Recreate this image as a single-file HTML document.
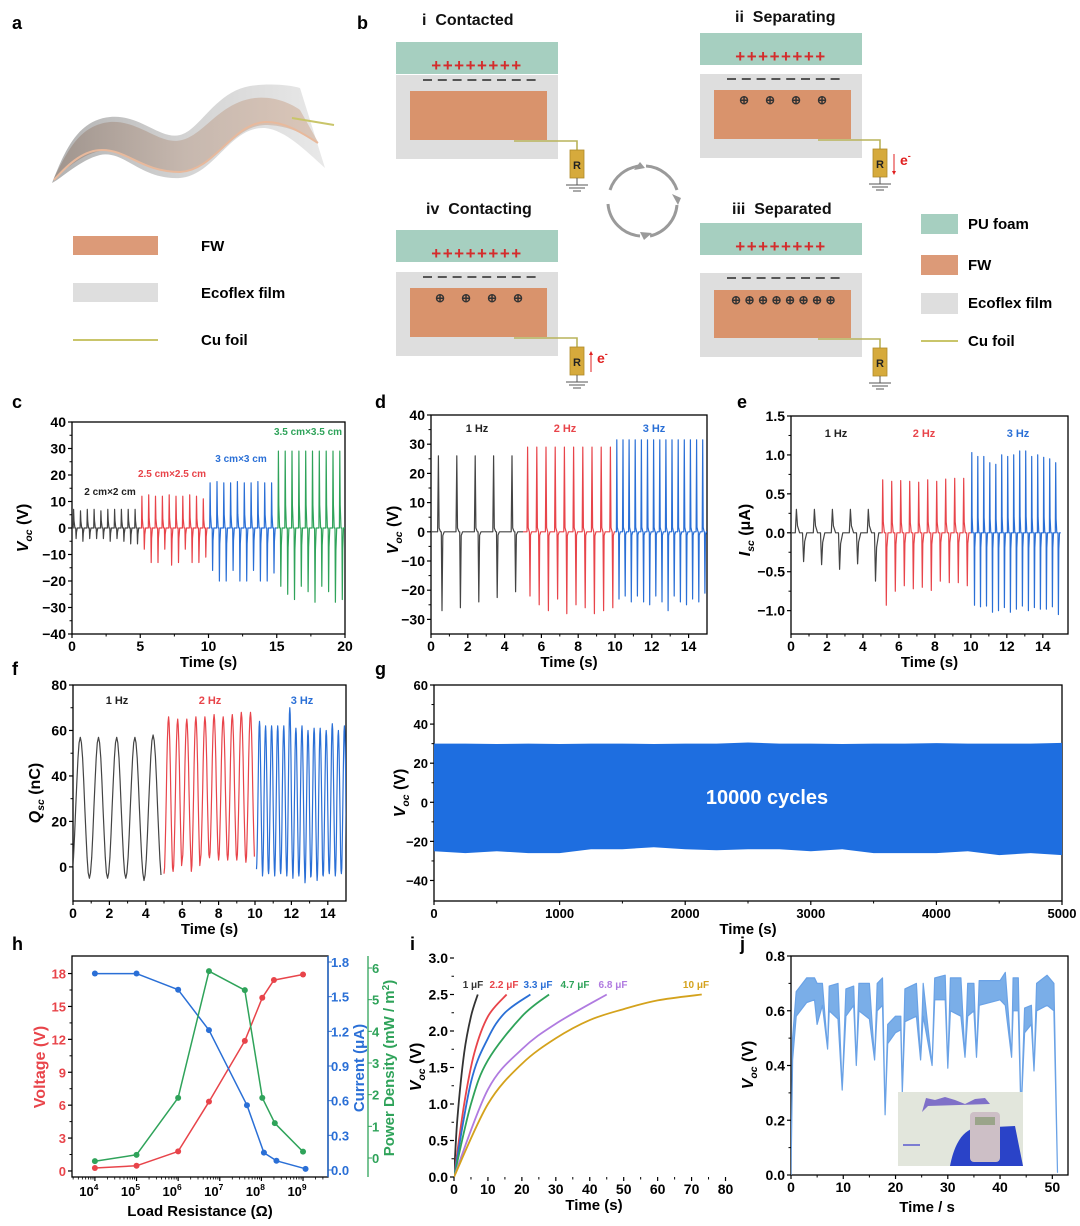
<!DOCTYPE html>
<html><head><meta charset="utf-8"><style>
html,body{margin:0;padding:0;background:#fff;}
svg text{font-family:"Liberation Sans",Arial,sans-serif;font-weight:bold;}
</style></head><body>
<svg id="fig" xmlns="http://www.w3.org/2000/svg" width="1080" height="1221" viewBox="0 0 1080 1221">
<rect width="1080" height="1221" fill="#fff"/>
<g font-size="18" fill="#000">
<text x="12" y="29">a</text>
<text x="357" y="29">b</text>
<text x="12" y="408">c</text>
<text x="375" y="408">d</text>
<text x="737" y="408">e</text>
<text x="12" y="675">f</text>
<text x="375" y="675">g</text>
<text x="12" y="950">h</text>
<text x="410" y="950">i</text>
<text x="740" y="950">j</text>
</g>
<g>
<defs>
<linearGradient id="gsheet" x1="0" y1="0" x2="1" y2="0"><stop offset="0" stop-color="#a9a9a9"/><stop offset="0.5" stop-color="#cfcfcf"/><stop offset="1" stop-color="#e6e6e6"/></linearGradient>
<linearGradient id="gfw" x1="0" y1="0" x2="1" y2="0"><stop offset="0" stop-color="#9c8f87"/><stop offset="0.5" stop-color="#c4b3a8"/><stop offset="1" stop-color="#d8c0b0"/></linearGradient>
</defs>
<path d="M52,183 C65,150 78,120 110,117 C140,114 160,140 180,135 C200,130 215,92 250,86 C270,83 290,85 300,88 L325,168 C305,150 285,130 265,128 C230,126 215,175 180,178 C140,180 125,150 100,155 C80,160 62,178 52,183 Z" fill="url(#gsheet)" opacity="0.9"/>
<path d="M54,178 C68,150 80,125 110,122 C140,120 160,146 182,140 C205,134 220,102 255,98 C275,96 292,104 300,110 L318,142 C300,132 285,125 265,125 C232,126 215,170 180,172 C142,174 125,147 100,151 C80,155 63,172 54,178 Z" fill="url(#gfw)" opacity="0.85"/>
<path d="M54,180 C70,162 85,150 102,150 C128,150 142,172 180,172 C215,170 232,124 265,122 C285,121 305,135 318,143" fill="none" stroke="#e8b99c" stroke-width="2"/>
<line x1="292" y1="118" x2="334" y2="125" stroke="#c9c56a" stroke-width="2"/>
</g>
<g font-size="15" fill="#000">
<rect x="73" y="236" width="85" height="19" fill="#dc9a78"/>
<text x="201" y="251">FW</text>
<rect x="73" y="283" width="85" height="19" fill="#dedede"/>
<text x="201" y="298">Ecoflex film</text>
<line x1="73" y1="340" x2="158" y2="340" stroke="#c9c56a" stroke-width="2"/>
<text x="201" y="345">Cu foil</text>
</g>
<g font-size="15" fill="#000">
<rect x="921" y="214" width="37" height="20" fill="#a6cfc0"/>
<text x="968" y="229">PU foam</text>
<rect x="921" y="255" width="37" height="20" fill="#dc9a78"/>
<text x="968" y="270">FW</text>
<rect x="921" y="293" width="37" height="21" fill="#dedede"/>
<text x="968" y="308">Ecoflex film</text>
<line x1="921" y1="341" x2="958" y2="341" stroke="#c9c56a" stroke-width="2"/>
<text x="968" y="346">Cu foil</text>
</g>
<g id="panelb"></g>
<g fill="none" stroke="#9a9a9a" stroke-width="3">
<path d="M610,190 A35,35 0 0 1 640,166"/><path d="M646,166 A35,35 0 0 1 677,190"/>
<path d="M677,205 A35,35 0 0 1 650,236"/><path d="M640,236 A35,35 0 0 1 608,204"/>
<polygon points="640,162 634,170 645,168" fill="#9a9a9a" stroke="none"/>
<polygon points="681,198 672,194 678,205" fill="#9a9a9a" stroke="none"/>
<polygon points="644,240 652,233 640,232" fill="#9a9a9a" stroke="none"/>
</g>
<g id="charts"></g>
</svg>
<script>
// ---------- data arrays ----------
const cBlackPos=[7,6.5,7,7,6.5,7,7,7,7,7], cBlackNeg=[-4,-5,-4,-4,-4,-5,-4,-5,-6,-6];
const cRedPos=[12,12.5,12,12,12.5,12,12,12.5,12,11], cRedNeg=[-8,-13,-13,-8,-14,-13,-8,-13,-13,-11];
const cBluePos=[17,17.5,17,17,17.5,17,17,17.5,17,17], cBlueNeg=[-16,-20,-20,-16,-20,-20,-16,-20,-20,-17];
const cGreenPos=[29,29,29,29,29,29,29,29,29,29], cGreenNeg=[-22,-25,-27,-22,-24,-28,-22,-24,-28,-27];
const cXTicks=[0,5,10,15,20], cYTicks=[-40,-30,-20,-10,0,10,20,30,40];
const dBlackPos=[26,26,26,26,26], dBlackNeg=[-27,-26,-24,-22.5,-20.5];
const dRedPos=[29,29,29,29,29,29,29,29,29,29], dRedNeg=[-22,-25,-27,-23,-28,-25,-26,-28,-27,-26];
const dBluePos=[31.5,31.5,31.5,31.5,31.5,31.5,31.5,31.5,31.5,31.5,31.5,31.5,31.5,31.5,31.5], dBlueNeg=[-23,-22,-24,-22,-24,-25,-22,-24,-27,-22,-24,-25,-23,-24,-21];
const dXTicks=[0,2,4,6,8,10,12,14], dYTicks=[-30,-20,-10,0,10,20,30,40];
const eBlackPos=[0.3,0.3,0.3,0.3,0.3], eBlackNeg=[-0.37,-0.41,-0.47,-0.4,-0.62];
const eRedPos=[0.68,0.66,0.67,0.66,0.65,0.68,0.66,0.69,0.7,0.7], eRedNeg=[-0.93,-0.75,-0.68,-0.72,-0.7,-0.74,-0.62,-0.64,-0.64,-0.68];
const eBluePos=[1.03,0.98,0.98,0.9,0.88,1.0,0.98,1.0,1.05,1.05,0.98,1.0,0.97,0.95,0.9], eBlueNeg=[-0.93,-0.95,-0.94,-1.02,-1.0,-0.96,-1.02,-0.98,-0.94,-1.0,-0.96,-0.98,-0.98,-0.95,-1.05];
const eXTicks=[0,2,4,6,8,10,12,14], eYTicks=[-1.0,-0.5,0.0,0.5,1.0,1.5];
const fBlackMax=[57,57,57,57,58], fBlackMin=[-5,-5,-5,-5,-6];
const fRedMax=[66,65,65,66,66,67,66,67,68,68], fRedMin=[-3,-2,3,-2,3,4,3,3,3,2];
const fBlueMax=[64,62,62,62,62,70,61,62,60,61,61,60,63,60,62], fBlueMin=[-1,-4,-3,-4,-3,-4,-5,-4,-7,-4,-6,-4,-3,-4,-3];
const fXTicks=[0,2,4,6,8,10,12,14], fYTicks=[0,20,40,60,80];
const gTime=[0,250,500,750,1000,1250,1500,1750,2000,2250,2500,2750,3000,3250,3500,3750,4000,4250,4500,4750,5000];
const gTop=[30,30,29.8,30,29.8,30,30,29.8,30,30,30.6,30,30,29.8,30,30,30.3,30,30,30,30.4];
const gBot=[-25,-26,-25,-26,-26,-24,-24,-23,-24,-24.5,-24,-24,-25,-24,-26,-26,-26,-25,-27,-26,-27];
const gXTicks=[0,1000,2000,3000,4000,5000], gYTicks=[-40,-20,0,20,40,60];
const hR=[1e4,1e5,1e6,5.5e6,4e7,1.05e8,2e8,1e9];
const hVolt=[0,0.2,1.5,6,11.5,15.4,17,17.5];
const hCurR=[1e4,1e5,1e6,5.5e6,4.5e7,1.15e8,2.3e8,1.15e9];
const hCur=[1.7,1.7,1.56,1.21,0.56,0.15,0.08,0.01];
const hPowR=[1e4,1e5,1e6,5.5e6,4e7,1.05e8,2.1e8,1e9];
const hPow=[-0.1,0.1,1.9,5.9,5.3,1.9,1.1,0.2];
const hXTicks=[4,5,6,7,8,9], hVTicks=[0,3,6,9,12,15,18], hCTicks=[0,0.3,0.6,0.9,1.2,1.5,1.8], hPTicks=[0,1,2,3,4,5,6];
const iLabels=["1 μF","2.2 μF","3.3 μF","4.7 μF","6.8 μF","10 μF"];
const iT=[[0,1,3,5,7],[0,3,6,10,15.5],[0,5,10,15,22.5],[0,5,10,20,28],[0,10,20,30,45],[0,10,20,30,40,50,60,73]];
const iV=[[0,0.8,1.7,2.2,2.5],[0,1.0,1.7,2.2,2.5],[0,1.3,1.9,2.25,2.5],[0,1.0,1.6,2.2,2.5],[0,1.2,1.75,2.1,2.5],[0,1.0,1.55,1.9,2.15,2.3,2.42,2.5]];
const iXTicks=[0,10,20,30,40,50,60,70,80], iYTicks=[0,0.5,1.0,1.5,2.0,2.5,3.0];
const jT=[0,0.3,1,3,4.5,5,6,7,7.3,9,9.8,10.5,12,12.5,13,15,16,16.5,17.5,18,18.5,20,21,21.3,21.8,24,24.8,25.3,27,27.5,29.5,30,30.5,32.5,33.3,33.8,35,35.5,36,40,41,42.2,42.5,43.5,44,44.7,46,46.5,47,49,50.3,51];
const jLow=[0,0.42,0.58,0.63,0.64,0.55,0.62,0.46,0.6,0.57,0.31,0.58,0.62,0.4,0.6,0.57,0.42,0.6,0.62,0.22,0.48,0.52,0.53,0.3,0.56,0.58,0.42,0.58,0.4,0.64,0.64,0.39,0.6,0.58,0.43,0.58,0.6,0.43,0.62,0.64,0.62,0.43,0.6,0.6,0.22,0.52,0.55,0.38,0.6,0.62,0.6,0.01];
const jHigh=[0,0.5,0.67,0.72,0.72,0.7,0.7,0.46,0.69,0.7,0.31,0.68,0.69,0.4,0.7,0.7,0.42,0.7,0.72,0.22,0.55,0.58,0.58,0.3,0.68,0.7,0.42,0.7,0.4,0.72,0.73,0.39,0.72,0.72,0.43,0.7,0.7,0.43,0.71,0.71,0.74,0.43,0.72,0.72,0.22,0.61,0.62,0.38,0.7,0.73,0.7,0.01];
const jXTicks=[0,10,20,30,40,50], jYTicks=[0,0.2,0.4,0.6,0.8];

// ---------- helpers ----------
const NS="http://www.w3.org/2000/svg";
const root=document.getElementById('charts');
const defs=document.querySelector('defs');
let clipN=0;
function el(tag,attrs,parent,txt){const e=document.createElementNS(NS,tag);for(const k in attrs)e.setAttribute(k,attrs[k]);if(txt!==undefined)e.textContent=txt;(parent||root).appendChild(e);return e;}
function lin(d0,d1,r0,r1){return v=>r0+(v-d0)/(d1-d0)*(r1-r0);}
function fmt(v,dec){return (v<0?"\u2212":"")+Math.abs(v).toFixed(dec);}
let curClip=null;
function axes(o){
  const g=el('g',{});
  
  
  const cid='clip'+(clipN++);
  const cp=el('clipPath',{id:cid},defs);el('rect',{x:o.x0,y:o.y0,width:o.x1-o.x0,height:o.y1-o.y0},cp);
  curClip=el('g',{'clip-path':`url(#${cid})`});
  
  
  const sx=lin(o.xmin,o.xmax,o.x0,o.x1);
  const sy=lin(o.ymin,o.ymax,o.y1,o.y0);
  const fs=o.fs||14;
  o.xticks.forEach(t=>{const x=sx(t);el('line',{x1:x,y1:o.y1,x2:x,y2:o.y1+4,stroke:'#000','stroke-width':1.2},g);
    if(o.xlog){const tx=el('text',{x:x-6,y:o.y1+19,'font-size':fs,'text-anchor':'middle'},g,'10');el('tspan',{dy:-6,'font-size':fs*0.65},tx,String(t));}
    else el('text',{x:x,y:o.y1+17,'font-size':fs,'text-anchor':'middle'},g,fmt(t,o.xdec||0));});
  if(o.xlog){for(let d=Math.floor(o.xmin);d<o.xmax;d++)for(let m=2;m<10;m++){const v=d+Math.log10(m);if(v>o.xmin&&v<o.xmax){const x=sx(v);el('line',{x1:x,y1:o.y1,x2:x,y2:o.y1+2.5,stroke:'#000','stroke-width':0.8},g);}}}
  else if(o.xminor){for(let i=0;i<o.xticks.length-1;i++){const x=sx((o.xticks[i]+o.xticks[i+1])/2);el('line',{x1:x,y1:o.y1,x2:x,y2:o.y1+2.5,stroke:'#000','stroke-width':1},g);}}
  if(!o.noy){o.yticks.forEach(t=>{const y=sy(t);el('line',{x1:o.x0,y1:y,x2:o.x0-4,y2:y,stroke:'#000','stroke-width':1.2},g);
    el('text',{x:o.x0-6,y:y+5,'font-size':fs,'text-anchor':'end',fill:o.ycol||'#000'},g,fmt(t,o.ydec||0));});
  for(let i=0;i<o.yticks.length-1;i++){const y=sy((o.yticks[i]+o.yticks[i+1])/2);el('line',{x1:o.x0,y1:y,x2:o.x0-2.5,y2:y,stroke:'#000','stroke-width':1},g);}}
  if(o.xtitle)el('text',{x:(o.x0+o.x1)/2,y:o.y1+33,'font-size':15,'text-anchor':'middle'},g,o.xtitle);
  return {sx,sy,g,box:()=>el('rect',{x:o.x0,y:o.y0,width:o.x1-o.x0,height:o.y1-o.y0,fill:'none',stroke:'#000','stroke-width':1.3},g)};
}
function ytitle(x,y,main,sub,unit,col,fs){
  const t=el('text',{x:x,y:y,'font-size':fs||16,'text-anchor':'middle',transform:`rotate(-90 ${x} ${y})`,fill:col||'#000'});
  
  el('tspan',{'font-style':'italic'},t,main);
  if(sub)el('tspan',{'font-size':(fs||16)*0.65,dy:4,'font-style':'italic'},t,sub);
  el('tspan',{dy:sub?-4:0},t,unit);return t;
}
function pulsePath(ax,t0,period,pos,neg,a,b,w,tail){
  let pts=[];
  for(let i=0;i<pos.length;i++){const s=t0+i*period;
    pts.push([s,0],[s+a-w,0],[s+a,pos[i]],[s+a+w,pos[i]*tail],[s+a+3*w,0],[s+b-w,0],[s+b,neg[i]],[s+b+w,neg[i]*tail],[s+b+3*w,0]);}
  pts.push([t0+pos.length*period,0]);
  return pts.map((p,k)=>(k?'L':'M')+ax.sx(p[0]).toFixed(1)+','+ax.sy(p[1]).toFixed(1)).join('');
}
function line(path,col,name,sw){const p=el('path',{d:path,fill:'none',stroke:col,'stroke-width':sw||1.2,'stroke-linejoin':'round'},curClip||root);return p;}
function label(x,y,txt,col,fs,name){const t=el('text',{x:x,y:y,'font-size':fs||10,fill:col,'text-anchor':'middle'},root,txt);return t;}
const BK='#444',RD='#e8444a',BL='#2a6fd6',GN='#2fa35a';

// ---------- panel b ----------
(function(){
  const pb=document.getElementById('panelb');
  const diag=[
    {n:'i',t:'Contacted',tx:422,ty:25,gx:396,gy:42,gh:32,ey:75,fy:91,fh:49,plusY:71,minusY:80,circ:0,rx:570,arrow:0},
    {n:'ii',t:'Separating',tx:735,ty:22,gx:700,gy:33,gh:32,ey:74,fy:90,fh:49,plusY:62,minusY:79,circ:4,rx:873,arrow:1},
    {n:'iv',t:'Contacting',tx:426,ty:214,gx:396,gy:230,gh:32,ey:272,fy:288,fh:49,plusY:259,minusY:277,circ:4,rx:570,arrow:-1},
    {n:'iii',t:'Separated',tx:732,ty:214,gx:700,gy:223,gh:32,ey:273,fy:290,fh:48,plusY:252,minusY:278,circ:8,rx:873,arrow:0}];
  diag.forEach(d=>{
    const g=el('g',{},pb);
    
    
    el('text',{x:d.tx,y:d.ty,'font-size':16,fill:'#111'},g,d.n+'\u00a0\u00a0'+d.t);
    el('rect',{x:d.gx,y:d.gy,width:162,height:d.gh,fill:'#a6cfc0'},g);
    el('rect',{x:d.gx,y:d.ey,width:162,height:84,fill:'#dedede'},g);
    el('rect',{x:d.gx+14,y:d.fy,width:137,height:d.fh,fill:'#d9936c'},g);
    el('text',{x:d.gx+81,y:d.plusY,'font-size':17,fill:'#d42c2c','text-anchor':'middle','letter-spacing':'1.5'},g,'++++++++');
    for(let k=0;k<8;k++)el('line',{x1:d.gx+27+k*14.8,y1:d.minusY,x2:d.gx+36+k*14.8,y2:d.minusY,stroke:'#333','stroke-width':1.6},g);
    const step=d.circ===8?13.5:26;const start=d.circ===8?d.gx+36:d.gx+44;
    for(let k=0;k<d.circ;k++)el('text',{x:start+k*step,y:d.fy+14,'font-size':12,fill:'#333','text-anchor':'middle','font-weight':'normal'},g,'\u2295');
    const wy=d.fy+d.fh+1;
    el('polyline',{points:`${d.gx+118},${wy} ${d.rx+7},${wy} ${d.rx+7},${wy+9}`,fill:'none',stroke:'#b9b35a','stroke-width':1.6},g);
    el('rect',{x:d.rx,y:wy+9,width:14,height:28,fill:'#d6aa3c',stroke:'#b08a28','stroke-width':0.8},g);
    el('text',{x:d.rx+7,y:wy+28,'font-size':11,'text-anchor':'middle',fill:'#222'},g,'R');
    el('line',{x1:d.rx+7,y1:wy+37,x2:d.rx+7,y2:wy+44,stroke:'#555','stroke-width':1},g);
    [[11,44],[8,47],[4,50]].forEach(s=>el('line',{x1:d.rx+7-s[0],y1:wy+s[1],x2:d.rx+7+s[0],y2:wy+s[1],stroke:'#555','stroke-width':1},g));
    if(d.arrow){const ax=d.rx+21;
      el('line',{x1:ax,y1:wy+14,x2:ax,y2:wy+34,stroke:'#e02020','stroke-width':1},g);
      if(d.arrow>0)el('polygon',{points:`${ax-2},${wy+31} ${ax+2},${wy+31} ${ax},${wy+35}`,fill:'#e02020'},g);
      else el('polygon',{points:`${ax-2},${wy+17} ${ax+2},${wy+17} ${ax},${wy+13}`,fill:'#e02020'},g);
      const et=el('text',{x:ax+6,y:wy+25,'font-size':14,fill:'#e02020'},g,'e');el('tspan',{dy:-6,'font-size':9},et,'-');}
  });
})();

// ---------- panel c ----------
(function(){
  const ax=axes({name:'chart-c',x0:72,x1:345,y0:422,y1:634,xmin:0,xmax:20,ymin:-40,ymax:40,xticks:cXTicks,yticks:cYTicks,xtitle:'Time (s)',xminor:1});
  line(pulsePath(ax,0,0.5,cBlackPos,cBlackNeg,0.12,0.3,0.03,0.4),BK,'trace-2cm');
  line(pulsePath(ax,5,0.5,cRedPos,cRedNeg,0.12,0.3,0.03,0.3),RD,'trace-2-5cm');
  line(pulsePath(ax,10,0.5,cBluePos,cBlueNeg,0.12,0.3,0.03,0.3),BL,'trace-3cm');
  line(pulsePath(ax,15,0.5,cGreenPos,cGreenNeg,0.12,0.3,0.03,0.3),GN,'trace-3-5cm');
  ax.box();
  ytitle(28,528,'V','oc',' (V)');
  label(110,495,'2 cm\u00d72 cm','#222',10,'label-2cm');
  label(172,477,'2.5 cm\u00d72.5 cm',RD,10,'label-2-5cm');
  label(241,462,'3 cm\u00d73 cm',BL,10,'label-3cm');
  label(308,435,'3.5 cm\u00d73.5 cm',GN,10,'label-3-5cm');
})();
// ---------- panel d ----------
(function(){
  const ax=axes({name:'chart-d',x0:431,x1:707,y0:415,y1:634,xmin:0,xmax:15,ymin:-35,ymax:40,xticks:dXTicks,yticks:dYTicks,xtitle:'Time (s)',xminor:1});
  line(pulsePath(ax,0,1,dBlackPos,dBlackNeg,0.4,0.6,0.04,0.05),BK,'trace-1hz');
  line(pulsePath(ax,5,0.5,dRedPos,dRedNeg,0.25,0.38,0.03,0.05),RD,'trace-2hz');
  line(pulsePath(ax,10,1/3,dBluePos,dBlueNeg,0.1,0.22,0.025,0.05),BL,'trace-3hz');
  ax.box();
  ytitle(398,530,'V','oc',' (V)');
  label(477,432,'1 Hz','#222',11,'label-1hz-d');
  label(565,432,'2 Hz',RD,11,'label-2hz-d');
  label(654,432,'3 Hz',BL,11,'label-3hz-d');
})();
// ---------- panel e ----------
(function(){
  const ax=axes({name:'chart-e',x0:791,x1:1068,y0:416,y1:634,xmin:0,xmax:15.4,ymin:-1.3,ymax:1.5,xticks:eXTicks,yticks:eYTicks,ydec:1,xtitle:'Time (s)',xminor:1});
  line(pulsePath(ax,0,1,eBlackPos,eBlackNeg,0.3,0.7,0.06,0.3),BK,'trace-1hz-e');
  line(pulsePath(ax,5,0.5,eRedPos,eRedNeg,0.1,0.3,0.03,0.2),RD,'trace-2hz-e');
  line(pulsePath(ax,10,1/3,eBluePos,eBlueNeg,0.05,0.2,0.02,0.2),BL,'trace-3hz-e');
  ax.box();
  ytitle(750,530,'I','sc',' (\u03bcA)');
  label(836,437,'1 Hz','#222',11,'label-1hz-e');
  label(924,437,'2 Hz',RD,11,'label-2hz-e');
  label(1018,437,'3 Hz',BL,11,'label-3hz-e');
})();
// ---------- panel f ----------
(function(){
  const ax=axes({name:'chart-f',x0:73,x1:346,y0:685,y1:901,xmin:0,xmax:15,ymin:-15,ymax:80,xticks:fXTicks,yticks:fYTicks,xtitle:'Time (s)',xminor:1});
  function wave(t0,period,mx,mn){let d='';const N=16;
    for(let i=0;i<mx.length;i++)for(let k=0;k<N;k++){const ph=k/N;const t=t0+(i+ph)*period;
      const c=(1-Math.cos(2*Math.PI*ph))/2;const v=mn[i]+(mx[i]-mn[i])*c;
      d+=(d?'L':'M')+ax.sx(t).toFixed(1)+','+ax.sy(v).toFixed(1);}
    return d;}
  line(wave(-0.1,1,fBlackMax,fBlackMin),BK,'trace-q-1hz');
  line(wave(5.0,0.5,fRedMax,fRedMin),RD,'trace-q-2hz');
  line(wave(10.08,1/3,fBlueMax,fBlueMin),BL,'trace-q-3hz');
  ax.box();
  ytitle(40,793,'Q','sc',' (nC)');
  label(117,704,'1 Hz','#222',11,'label-1hz-f');
  label(210,704,'2 Hz',RD,11,'label-2hz-f');
  label(302,704,'3 Hz',BL,11,'label-3hz-f');
})();
// ---------- panel g ----------
(function(){
  const ax=axes({name:'chart-g',x0:434,x1:1062,y0:685,y1:901,xmin:0,xmax:5000,ymin:-50.5,ymax:60,xticks:gXTicks,yticks:gYTicks,xtitle:'Time (s)',xminor:1,fs:13});
  let d='';gTime.forEach((t,i)=>d+=(i?'L':'M')+ax.sx(t).toFixed(1)+','+ax.sy(gTop[i]).toFixed(1));
  for(let i=gTime.length-1;i>=0;i--)d+='L'+ax.sx(gTime[i]).toFixed(1)+','+ax.sy(gBot[i]).toFixed(1);
  const p=el('path',{d:d+'Z',fill:'#1e6ee0'},curClip);
  
  
  ax.box();
  ytitle(405,793,'V','oc',' (V)');
  label(767,804,'10000 cycles','#fff',20,'label-10000-cycles');
})();
// ---------- panel h ----------
(function(){
  const ax=axes({name:'chart-h',x0:72,x1:328,y0:956,y1:1177,xmin:3.45,xmax:9.6,ymin:-0.55,ymax:19.6,xticks:hXTicks,yticks:hVTicks,xlog:1,ycol:RD,fs:13,xtitle:''});
  const sV=lin(0,18,1168,969), sC=lin(0,1.8,1170,962), sP=lin(0,6,1158,968);
  const sx=v=>ax.sx(Math.log10(v));
  const gr=el('g',{});
  
  
  el('line',{x1:328,y1:956,x2:328,y2:1177,stroke:BL,'stroke-width':1.3},gr);
  hCTicks.forEach(t=>{const y=sC(t);el('line',{x1:328,y1:y,x2:332,y2:y,stroke:BL},gr);el('text',{x:331,y:y+5,'font-size':13,fill:BL},gr,t.toFixed(1));});
  el('line',{x1:368,y1:956,x2:368,y2:1177,stroke:GN,'stroke-width':1.3},gr);
  hPTicks.forEach(t=>{const y=sP(t);el('line',{x1:368,y1:y,x2:372,y2:y,stroke:GN},gr);el('text',{x:372,y:y+5,'font-size':13,fill:GN},gr,String(t));});
  curClip=null;
  function series(xs,ys,sy,col,name){const d=xs.map((x,i)=>(i?'L':'M')+sx(x).toFixed(1)+','+sy(ys[i]).toFixed(1)).join('');line(d,col,name,1.5);
    xs.forEach((x,i)=>{const c=el('circle',{cx:sx(x),cy:sy(ys[i]),r:3,fill:col});});}
  series(hR,hVolt,sV,RD,'voltage-series');
  series(hCurR,hCur,sC,BL,'current-series');
  series(hPowR,hPow,sP,GN,'power-series');
  el('rect',{x:72,y:956,width:256,height:221,fill:'none',stroke:'#000','stroke-width':1.3});
  el('line',{x1:328,y1:956,x2:328,y2:1177,stroke:BL,'stroke-width':1.3});
  ytitle(45,1067,'','', 'Voltage (V)',RD,16);
  ytitle(364,1068,'','','Current (\u03bcA)',BL,15);
  const pt=el('text',{x:394,y:1068,'font-size':15,fill:GN,'text-anchor':'middle',transform:'rotate(-90 394 1068)'});
  pt.textContent='Power Density (mW / m';el('tspan',{dy:-5,'font-size':10},pt,'2');el('tspan',{dy:5},pt,')');
  label(200,1216,'Load Resistance (\u03a9)','#000',15,'x-axis-title-h');
})();
// ---------- panel i ----------
(function(){
  const ax=axes({name:'chart-i',x0:454,x1:734,y0:958,y1:1177,xmin:0,xmax:82.5,ymin:0,ymax:3.0,xticks:iXTicks,yticks:iYTicks,ydec:1,xtitle:'Time (s)',xminor:1});
  const cols=['#333',RD,BL,GN,'#b07be0','#d4a21c'];
  iT.forEach((ts,k)=>{
    const P=ts.map((t,i)=>[ax.sx(t),ax.sy(iV[k][i])]);
    let d='M'+P[0][0]+','+P[0][1];
    for(let i=0;i<P.length-1;i++){const p0=P[i-1]||P[i],p1=P[i],p2=P[i+1],p3=P[i+2]||P[i+1];
      d+=`C${p1[0]+(p2[0]-p0[0])/6},${p1[1]+(p2[1]-p0[1])/6} ${p2[0]-(p3[0]-p1[0])/6},${p2[1]-(p3[1]-p1[1])/6} ${p2[0]},${p2[1]}`;}
    line(d,cols[k],'charge-curve-'+k,1.8);
  });
  const lx=[473,504,538,575,613,696];
  iLabels.forEach((s,k)=>label(lx[k],988,s,cols[k],10,'label-cap-'+k));
  ytitle(421,1067,'V','oc',' (V)');
})();
// ---------- panel j ----------
(function(){
  const ax=axes({name:'chart-j',x0:791,x1:1068,y0:956,y1:1175,xmin:0,xmax:53,ymin:0,ymax:0.8,xticks:jXTicks,yticks:jYTicks,ydec:1,xtitle:'',xminor:1});
  let d='';jT.forEach((t,i)=>d+=(i?'L':'M')+ax.sx(t).toFixed(1)+','+ax.sy(jHigh[i]).toFixed(1));
  for(let i=jT.length-1;i>=0;i--)d+='L'+ax.sx(jT[i]).toFixed(1)+','+ax.sy(jLow[i]).toFixed(1);
  const p=el('path',{d:d+'Z',fill:'#7aaee8',stroke:'#6aa2e6','stroke-width':1.2,'stroke-linejoin':'round'},curClip);
  
  
  const ins=el('g',{});
  
  
  el('rect',{x:898,y:1092,width:125,height:74,fill:'#e2e6dc'},ins);
  el('path',{d:'M922,1112 L926,1098 L935,1100 L945,1097 L955,1100 L965,1104 L975,1099 L985,1098 L990,1104 L928,1106 Z',fill:'#7f70c8'},ins);
  el('line',{x1:903,y1:1145,x2:920,y2:1145,stroke:'#5a5acf','stroke-width':1.5},ins);
  el('path',{d:'M950,1166 C955,1140 965,1130 975,1128 L1015,1126 L1023,1166 Z',fill:'#2a43c8'},ins);
  el('rect',{x:970,y:1112,width:30,height:50,rx:4,fill:'#cdbfc6'},ins);
  el('rect',{x:975,y:1117,width:20,height:8,fill:'#9aa48a'},ins);
  ax.box();
  ytitle(753,1065,'V','oc',' (V)');
  label(927,1212,'Time / s','#000',15,'x-axis-title-j');
})();
</script>
</body></html>
